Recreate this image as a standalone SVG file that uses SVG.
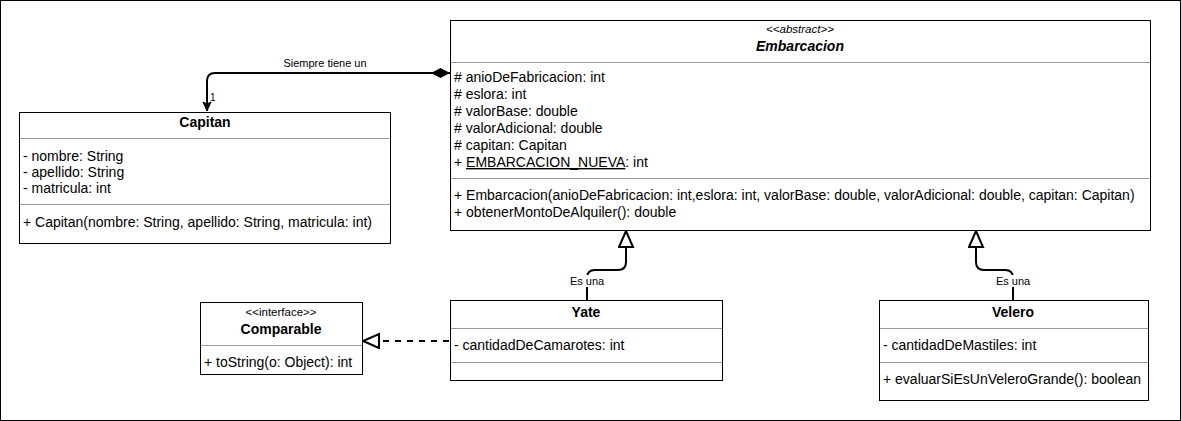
<svg xmlns="http://www.w3.org/2000/svg" width="1181" height="421" viewBox="0 0 1181 421">
<style>
  .box{fill:#fff;stroke:#000;stroke-width:1}
  .div{stroke:#999;stroke-width:1}
  text{font-family:"Liberation Sans",Arial,sans-serif;font-size:14px;fill:#000}
  .t{font-weight:bold;text-anchor:middle}
  .st{font-size:11.5px;text-anchor:middle}
  .lbl{font-size:11px;text-anchor:middle}
  .edge{fill:none;stroke:#000;stroke-width:2}
</style>
<defs>
  <marker id="diamond" markerWidth="20" markerHeight="12" refX="0" refY="6" orient="auto" markerUnits="userSpaceOnUse">
    <path d="M1,6 L9.5,1.5 L18,6 L9.5,10.5 Z" fill="#000" stroke="#000"/>
  </marker>
  <marker id="arrow" markerWidth="12" markerHeight="12" refX="10" refY="6" orient="auto" markerUnits="userSpaceOnUse">
    <path d="M1,2 L10,6 L1,10 L3,6 Z" fill="#000" stroke="#000"/>
  </marker>
  <marker id="tri" markerWidth="20" markerHeight="20" refX="17" refY="8" orient="auto" markerUnits="userSpaceOnUse">
    <path d="M1,1 L17,8 L1,15 Z" fill="#fff" stroke="#000" stroke-width="2"/>
  </marker>
</defs>
<rect x="0.5" y="0.5" width="1180" height="420" fill="#fff" stroke="#000"/>

<g id="connectors">
  <path class="edge" d="M450,73 L215,73 Q207,73 207,81 L207,111" marker-start="url(#diamond)" marker-end="url(#arrow)"/>
  <text class="lbl" x="325" y="67">Siempre tiene un</text>
  <text x="210" y="101" style="font-size:10px">1</text>
  <path class="edge" d="M587,300 L587,278 Q587,270 595,270 L618,270 Q626,270 626,262 L626,231" marker-end="url(#tri)"/>
  <rect x="568" y="275" width="38" height="12" fill="#fff"/>
  <text class="lbl" x="587" y="285">Es una</text>
  <path class="edge" d="M1013,300 L1013,278 Q1013,270 1005,270 L984,270 Q976,270 976,262 L976,231" marker-end="url(#tri)"/>
  <rect x="994" y="275" width="38" height="12" fill="#fff"/>
  <text class="lbl" x="1013" y="285">Es una</text>
  <path class="edge" d="M449,341 L363,341" stroke-dasharray="6 6" marker-end="url(#tri)"/>
</g>

<g id="embarcacion">
  <rect class="box" x="450.5" y="20.5" width="700" height="210"/>
  <text class="st" x="800" y="33" font-style="italic">&lt;&lt;abstract&gt;&gt;</text>
  <text class="t" x="800" y="51" font-style="italic">Embarcacion</text>
  <line class="div" x1="451" y1="62.5" x2="1150" y2="62.5"/>
  <text x="454" y="82"># anioDeFabricacion: int</text>
  <text x="454" y="99"># eslora: int</text>
  <text x="454" y="116"># valorBase: double</text>
  <text x="454" y="133"># valorAdicional: double</text>
  <text x="454" y="150"># capitan: Capitan</text>
  <text x="454" y="167">+ <tspan text-decoration="underline">EMBARCACION_NUEVA</tspan>: int</text>
  <line class="div" x1="451" y1="178.5" x2="1150" y2="178.5"/>
  <text x="454" y="200">+ Embarcacion(anioDeFabricacion: int,eslora: int, valorBase: double, valorAdicional: double, capitan: Capitan)</text>
  <text x="454" y="217">+ obtenerMontoDeAlquiler(): double</text>
</g>

<g id="capitan">
  <rect class="box" x="19.5" y="112.5" width="371" height="131"/>
  <text class="t" x="205" y="127">Capitan</text>
  <line class="div" x1="20" y1="138.5" x2="390" y2="138.5"/>
  <text x="23" y="161">- nombre: String</text>
  <text x="23" y="177">- apellido: String</text>
  <text x="23" y="193">- matricula: int</text>
  <line class="div" x1="20" y1="204.5" x2="390" y2="204.5"/>
  <text x="23" y="227">+ Capitan(nombre: String, apellido: String, matricula: int)</text>
</g>

<g id="comparable">
  <rect class="box" x="200.5" y="302.5" width="162" height="72"/>
  <text class="st" x="281" y="316">&lt;&lt;interface&gt;&gt;</text>
  <text class="t" x="281" y="334">Comparable</text>
  <line class="div" x1="201" y1="345.5" x2="362" y2="345.5"/>
  <text x="204" y="367">+ toString(o: Object): int</text>
</g>

<g id="yate">
  <rect class="box" x="450.5" y="300.5" width="272" height="80"/>
  <text class="t" x="586" y="317">Yate</text>
  <line class="div" x1="451" y1="328.5" x2="722" y2="328.5"/>
  <text x="454" y="350">- cantidadDeCamarotes: int</text>
  <line class="div" x1="451" y1="362.5" x2="722" y2="362.5"/>
</g>

<g id="velero">
  <rect class="box" x="879.5" y="300.5" width="269" height="100"/>
  <text class="t" x="1013" y="317">Velero</text>
  <line class="div" x1="880" y1="328.5" x2="1148" y2="328.5"/>
  <text x="883" y="350">- cantidadDeMastiles: int</text>
  <line class="div" x1="880" y1="362.5" x2="1148" y2="362.5"/>
  <text x="883" y="384">+ evaluarSiEsUnVeleroGrande(): boolean</text>
</g>
</svg>
